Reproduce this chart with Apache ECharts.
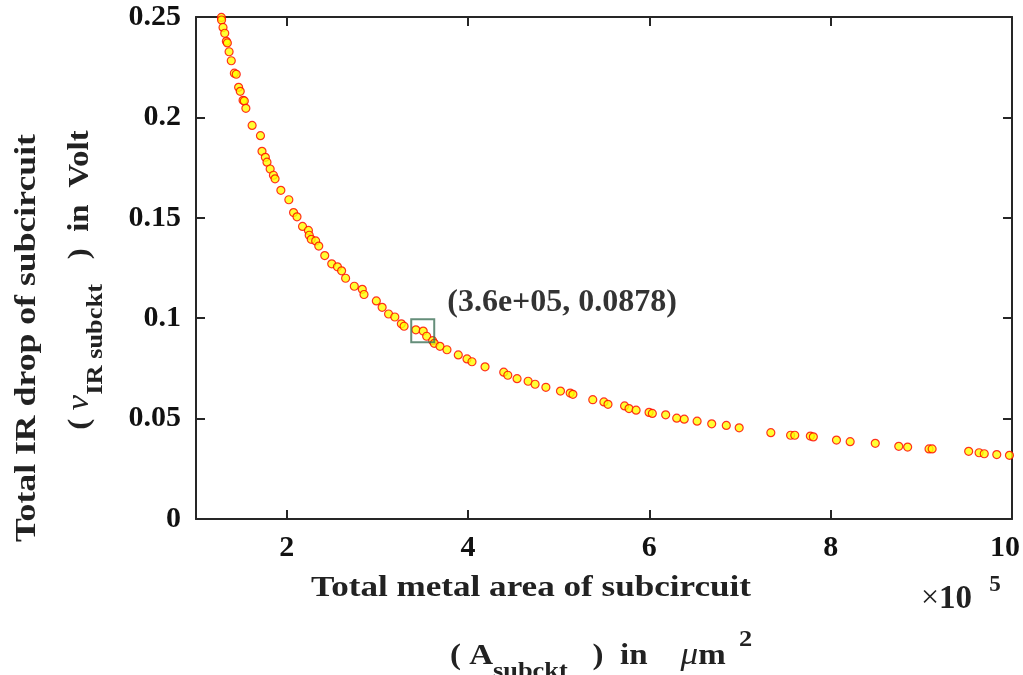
<!DOCTYPE html>
<html>
<head>
<meta charset="utf-8">
<script src="https://cdn.jsdelivr.net/npm/echarts@6/dist/echarts.min.js"></script>
<style>
  html, body { margin: 0; padding: 0; background: #fff; }
  #container { width: 1023px; height: 675px; }
</style>
</head>
<body>
<div id="container"></div>
<script>
// total metal area of subcircuit, in units of 1e5 um^2
const metalArea = [
  1.280, 1.282, 1.298, 1.317, 1.335, 1.346, 1.365, 1.389, 1.423, 1.444,
  1.470, 1.488, 1.519, 1.533, 1.550, 1.619, 1.711, 1.728, 1.765, 1.783,
  1.818, 1.854, 1.872, 1.936, 2.024, 2.076, 2.114, 2.175, 2.240, 2.249,
  2.271, 2.320, 2.354, 2.420, 2.497, 2.560, 2.606, 2.650, 2.746, 2.834,
  2.853, 2.989, 3.053, 3.124, 3.193, 3.265, 3.295, 3.425, 3.506, 3.544,
  3.610, 3.628, 3.691, 3.768, 3.893, 3.989, 4.044, 4.188, 4.394, 4.439,
  4.541, 4.663, 4.740, 4.859, 5.020, 5.127, 5.157, 5.376, 5.499, 5.544,
  5.727, 5.776, 5.854, 5.997, 6.033, 6.180, 6.302, 6.385, 6.527, 6.688,
  6.849, 6.991, 7.340, 7.558, 7.604, 7.776, 7.809, 8.064, 8.215, 8.492,
  8.751, 8.849, 9.085, 9.119, 9.522, 9.637, 9.694, 9.832, 9.972
];
// total IR drop of subcircuit, volt
const irDrop = [
  0.2498, 0.2485, 0.2448, 0.2419, 0.2379, 0.2371, 0.2327, 0.2282, 0.2220, 0.2215,
  0.2150, 0.2130, 0.2085, 0.2082, 0.2045, 0.1960, 0.1909, 0.1831, 0.1801, 0.1777,
  0.1743, 0.1712, 0.1694, 0.1637, 0.1590, 0.1526, 0.1505, 0.1457, 0.1437, 0.1413,
  0.1393, 0.1385, 0.1359, 0.1312, 0.1271, 0.1256, 0.1236, 0.1199, 0.1159, 0.1144,
  0.1118, 0.1086, 0.1054, 0.1021, 0.1006, 0.0972, 0.0960, 0.0942, 0.0936, 0.0910,
  0.0888, 0.0875, 0.0860, 0.0843, 0.0817, 0.0797, 0.0783, 0.0758, 0.0731, 0.0716,
  0.0699, 0.0686, 0.0671, 0.0656, 0.0637, 0.0627, 0.0621, 0.0594, 0.0583, 0.0571,
  0.0563, 0.0550, 0.0542, 0.0531, 0.0526, 0.0519, 0.0502, 0.0497, 0.0487, 0.0474,
  0.0466, 0.0454, 0.0430, 0.0417, 0.0417, 0.0413, 0.0409, 0.0393, 0.0385, 0.0377,
  0.0362, 0.0358, 0.0349, 0.0349, 0.0337, 0.0330, 0.0325, 0.0321, 0.0317
];
const xTicks = [2, 4, 6, 8, 10];
const yTicks = [0, 0.05, 0.1, 0.15, 0.2, 0.25];
// data tip
const tipPoint = [3.6, 0.0878];
const tipText = '(3.6e+05, 0.0878)';

const serif = "'Liberation Serif', 'Times New Roman', serif";
const axisColor = '#262626';

const myChart = echarts.init(document.getElementById('container'));

const boxAxis = {
  axisLine: { show: true, onZero: false, lineStyle: { color: axisColor, width: 2 } },
  splitLine: { show: false },
  axisTick: { show: true, inside: true, length: 9, lineStyle: { color: axisColor, width: 2 } }
};

const tickFont = { fontFamily: serif, fontWeight: 'bold', fontSize: 30, color: '#111' };

const option = {
  animation: false,
  backgroundColor: '#fff',
  grid: { left: 196, right: 11, top: 17, bottom: 156, outerBoundsMode: 'none', containLabel: false },
  xAxis: [
    Object.assign({}, boxAxis, {
      type: 'value', position: 'bottom', min: 1, max: 10,
      axisTick: Object.assign({}, boxAxis.axisTick, { customValues: xTicks }),
      axisLabel: Object.assign({}, tickFont, {
        customValues: xTicks, margin: 14,
        // last label sits a little left of its tick, as in the figure
        formatter: v => v === 10 ? '{r|10}' : String(v),
        rich: { r: Object.assign({}, tickFont, { padding: [0, 14, 0, 0] }) }
      })
    }),
    Object.assign({}, boxAxis, {
      type: 'value', position: 'top', min: 1, max: 10,
      axisTick: Object.assign({}, boxAxis.axisTick, { customValues: xTicks }),
      axisLabel: { show: false }
    })
  ],
  yAxis: [
    Object.assign({}, boxAxis, {
      type: 'value', position: 'left', min: 0, max: 0.25, interval: 0.05,
      axisTick: Object.assign({}, boxAxis.axisTick, { customValues: yTicks }),
      axisLabel: Object.assign({}, tickFont, { customValues: yTicks, margin: 15 })
    }),
    Object.assign({}, boxAxis, {
      type: 'value', position: 'right', min: 0, max: 0.25, interval: 0.05,
      axisLabel: { show: false }
    })
  ],
  series: [
    {
      type: 'scatter',
      xAxisIndex: 0, yAxisIndex: 0,
      symbol: 'circle',
      symbolSize: 8,
      itemStyle: { color: '#ffff00', borderColor: '#ff0000', borderWidth: 1.2 },
      data: metalArea.map((x, i) => [x, irDrop[i]]),
      z: 3
    },
    {
      type: 'scatter',
      xAxisIndex: 0, yAxisIndex: 0,
      symbol: 'rect',
      symbolSize: 23,
      symbolOffset: [-9, -12],
      itemStyle: { color: 'rgba(0,0,0,0)', borderColor: '#3f7259', borderWidth: 2 },
      label: {
        show: true, position: 'right', distance: 12, offset: [0, -28],
        formatter: tipText, color: '#000',
        fontFamily: serif, fontWeight: 'bold', fontSize: 32
      },
      data: [tipPoint],
      z: 5
    }
  ],
  graphic: [
    // x-axis title, line 1
    {
      type: 'text', x: 531, y: 588, scaleX: 1.17,
      style: {
        text: 'Total metal area of subcircuit',
        fontFamily: serif, fontWeight: 'bold', fontSize: 30, fill: '#222',
        align: 'center', verticalAlign: 'middle'
      }
    },
    // x-axis title, line 2
    {
      type: 'text', x: 601, y: 656, scaleX: 1.1,
      style: {
        text: '{a|( A}{sub|subckt}{a|   )  in    }{mu|\u03bc}{a|m}{sup|  2}',
        fill: '#222', align: 'center', verticalAlign: 'middle',
        rich: {
          a: { fontFamily: serif, fontWeight: 'bold', fontSize: 30, lineHeight: 56, verticalAlign: 'middle' },
          sub: { fontFamily: serif, fontWeight: 'bold', fontSize: 24, lineHeight: 24, verticalAlign: 'bottom' },
          sup: { fontFamily: serif, fontWeight: 'bold', fontSize: 24, lineHeight: 24, verticalAlign: 'top' },
          mu: { fontFamily: serif, fontStyle: 'italic', fontSize: 32, lineHeight: 56, verticalAlign: 'middle' }
        }
      }
    },
    // exponent
    {
      type: 'text', x: 921, y: 599,
      style: {
        text: '{x|\u00d7}{a|10}{sup|   5}',
        fill: '#222', align: 'left', verticalAlign: 'middle',
        rich: {
          x: { fontFamily: serif, fontSize: 32, lineHeight: 50, verticalAlign: 'middle' },
          a: { fontFamily: serif, fontWeight: 'bold', fontSize: 33, lineHeight: 50, verticalAlign: 'middle' },
          sup: { fontFamily: serif, fontWeight: 'bold', fontSize: 23, lineHeight: 23, verticalAlign: 'top' }
        }
      }
    },
    // y-axis title, line 1
    {
      type: 'text', x: 27, y: 338, rotation: Math.PI / 2, scaleX: 1.19,
      style: {
        text: 'Total IR drop of subcircuit',
        fontFamily: serif, fontWeight: 'bold', fontSize: 30, fill: '#222',
        align: 'center', verticalAlign: 'middle'
      }
    },
    // y-axis title, line 2
    {
      type: 'text', x: 80, y: 280, rotation: Math.PI / 2, scaleX: 1.1,
      style: {
        text: '{a|( }{v|v}{sub|IR subckt}{a|   )  in  Volt}',
        fill: '#222', align: 'center', verticalAlign: 'middle',
        rich: {
          a: { fontFamily: serif, fontWeight: 'bold', fontSize: 30, lineHeight: 56, verticalAlign: 'middle' },
          v: { fontFamily: serif, fontStyle: 'italic', fontSize: 32, lineHeight: 56, verticalAlign: 'middle' },
          sub: { fontFamily: serif, fontWeight: 'bold', fontSize: 24, lineHeight: 24, verticalAlign: 'bottom' }
        }
      }
    }
  ]
};

myChart.setOption(option);
</script>
</body>
</html>
